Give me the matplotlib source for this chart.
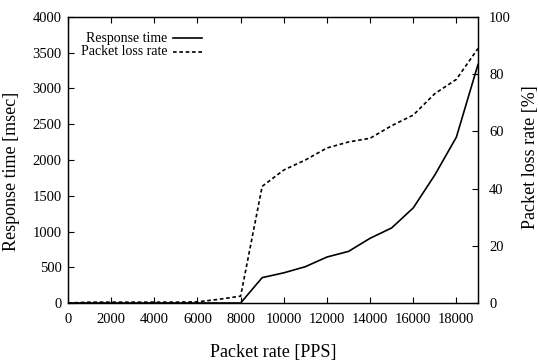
import matplotlib
matplotlib.use("Agg")
import matplotlib.pyplot as plt

plt.rcParams['font.family'] = ['Liberation Serif', 'DejaVu Serif']

# packet rate [PPS]
rate = [0, 1000, 2000, 3000, 4000, 5000, 6000, 7000, 8000, 9000, 10000,
        11000, 12000, 13000, 14000, 15000, 16000, 17000, 18000, 19000]
# response time [msec]
resp = [0, 0, 0, 0, 0, 0, 0, 0, 0, 355, 422, 508, 643, 722, 905, 1050,
        1330, 1790, 2320, 3335]
# packet loss rate [%]
loss = [0, 0.3, 0.3, 0.3, 0.3, 0.3, 0.4, 1.3, 2.4, 40.8, 46.5, 50.0, 54.2,
        56.3, 57.6, 62.0, 65.7, 73.2, 78.2, 89.0]

fig = plt.figure(figsize=(5.38, 3.6), dpi=100)
ax = fig.add_axes([0.1264, 0.1583, 0.762, 0.7945])
ax2 = ax.twinx()

dash = (0, (2.2, 1.6))
ax.plot(rate, resp, color='black', lw=1.2, ls='-')
ax2.plot(rate, loss, color='black', lw=1.2, ls=dash)

ax.set_xlim(0, 19000)
ax.set_ylim(0, 4000)
ax2.set_ylim(0, 100)
ax.set_xticks(range(0, 19000, 2000))
ax.set_yticks(range(0, 4001, 500))
ax2.set_yticks(range(0, 101, 20))

ax.tick_params(axis='x', direction='in', top=True, length=4, width=0.8,
               labelsize=10.5, pad=7)
ax.tick_params(axis='y', direction='in', right=False, length=4, width=0.8,
               labelsize=10.5, pad=4.5)
ax2.tick_params(axis='y', direction='in', length=4, width=0.8,
                labelsize=10.5, pad=8)
for a in (ax, ax2):
    for s in a.spines.values():
        s.set_linewidth(0.9)

ax.set_xlabel('Packet rate [PPS]', fontsize=13, labelpad=13)
ax.set_ylabel('Response time [msec]', fontsize=13, labelpad=9, y=0.46)
ax2.set_ylabel('Packet loss rate [%]', fontsize=13, labelpad=8, y=0.51)

# gnuplot-style key: right-justified text, then sample line
key = [('Response time', '-'), ('Packet loss rate', dash)]
for i, (name, style) in enumerate(key):
    yk = 0.925 - i * 0.046
    ax.text(0.243, yk, name, transform=ax.transAxes, ha='right', va='center',
            fontsize=10)
    ax.plot([0.256, 0.327], [yk, yk], transform=ax.transAxes, color='black',
            lw=1.2, ls=style)

fig.savefig('out.png', dpi=100)
